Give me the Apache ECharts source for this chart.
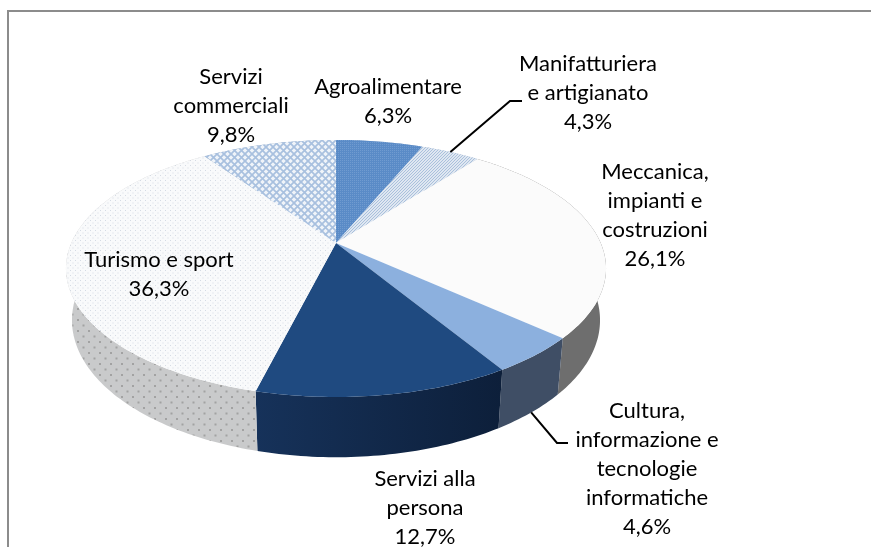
<!DOCTYPE html>
<html>
<head>
<meta charset="utf-8">
<title>Settori</title>
<style>
    html, body { margin: 0; padding: 0; background: #fff; }
    #chart { width: 871px; height: 547px; }
</style>
<script src="https://cdn.jsdelivr.net/npm/echarts@6/dist/echarts.min.js"></script>
</head>
<body>
<div id="chart"></div>
<script>
var categories = ['Agroalimentare', 'Manifatturiera\ne artigianato', 'Meccanica,\nimpianti e\ncostruzioni',
    'Cultura,\ninformazione e\ntecnologie\ninformatiche', 'Servizi alla\npersona', 'Turismo e sport', 'Servizi\ncommerciali'];
var values = [6.3, 4.3, 26.1, 4.6, 12.7, 36.3, 9.8];
var valueLabels = ['6,3%', '4,3%', '26,1%', '4,6%', '12,7%', '36,3%', '9,8%'];

// piano superiore e inferiore del disco, in prospettiva
var topPlane = { ax: 264.7, by: 123.5, cx: 336, cy: 243 };
var bottomPlane = { ax: 258.8, by: 131.7, cx: 336, cy: 293 };
var persp = -0.198;

var total = 0;
values.forEach(function (v) { total += v; });

var cumulative = [];
var sum = 0;
values.forEach(function (v) {
    cumulative.push([sum / total, (sum + v) / total]);
    sum += v;
});

// frazione di giro -> punto sul bordo del disco
var project = function (plane, t) {
    var a = t * Math.PI * 2;
    var u = Math.sin(a);
    var w = -Math.cos(a);
    var den = 1 + persp * w;
    return [plane.cx + plane.ax * u / den, plane.cy + plane.by * w / den];
};

var arc = function (plane, t0, t1) {
    var n = Math.max(2, Math.ceil((t1 - t0) * 360));
    var pts = [];
    for (var i = 0; i <= n; i++) {
        pts.push(project(plane, t0 + (t1 - t0) * i / n));
    }
    return pts;
};

// texture
var pattern = function (w, h, bg, draw) {
    var c = document.createElement('canvas');
    c.width = w;
    c.height = h;
    var ctx = c.getContext('2d');
    ctx.fillStyle = bg;
    ctx.fillRect(0, 0, w, h);
    draw(ctx);
    return { image: c, repeat: 'repeat' };
};

var dots = function (w, h, bg, color, size) {
    return pattern(w, h, bg, function (ctx) {
        ctx.fillStyle = color;
        ctx.fillRect(0, 0, size, size);
        ctx.fillRect(w / 2, h / 2, size, size);
    });
};

var lattice = pattern(7, 7, '#f0f4f9', function (ctx) {
    ctx.strokeStyle = '#a8c0df';
    ctx.lineWidth = 1.7;
    ctx.beginPath();
    ctx.moveTo(-1, -1); ctx.lineTo(8, 8);
    ctx.moveTo(-1, 8); ctx.lineTo(8, -1);
    ctx.stroke();
});

var fine = pattern(2, 2, '#5a8bc7', function (ctx) {
    ctx.fillStyle = '#709bd0';
    ctx.fillRect(0, 0, 1, 1);
});

var fineLight = pattern(3, 3, '#dfe7f1', function (ctx) {
    ctx.fillStyle = '#a9c0dc';
    ctx.fillRect(0, 2, 1, 1);
    ctx.fillRect(1, 1, 1, 1);
    ctx.fillRect(2, 0, 1, 1);
});

var faceFills = [fine, fineLight, '#fbfbfb', '#8cb0de', '#1f4a80',
    dots(5, 5, '#f9fafb', '#d5dbe4', 1), lattice];

var darkWall = {
    type: 'linear', x: 0, y: 0, x2: 1, y2: 0,
    colorStops: [{ offset: 0, color: '#16325a' }, { offset: 1, color: '#0d1f3a' }]
};
var sideFills = ['#b9c7da', '#b9c7da', '#6e6e6e', '#3f4e65', darkWall,
    dots(11, 11, '#c9cacb', '#a2a2a2', 2), '#9fb3cc'];

var seriesData = cumulative.map(function (c, i) {
    return [c[0], c[1], i];
});

var renderWall = function (params, api) {
    var i = api.value(2);
    var t0 = api.value(0);
    var t1 = api.value(1);
    var pts = arc(topPlane, t0, t1).concat(arc(bottomPlane, t0, t1).reverse());
    return {
        type: 'polygon',
        shape: { points: pts },
        style: { fill: sideFills[i] },
        silent: true
    };
};

var renderFace = function (params, api) {
    var i = api.value(2);
    var pts = [[topPlane.cx, topPlane.cy]].concat(arc(topPlane, api.value(0), api.value(1)));
    return {
        type: 'polygon',
        shape: { points: pts },
        style: { fill: faceFills[i] }
    };
};

var midOf = function (i) {
    return (cumulative[i][0] + cumulative[i][1]) / 2;
};

// posizione delle etichette: centro orizzontale e alto del blocco
var labelPlaces = [[388, 72], [588, 49], [655, 157], [647, 396], [425, 464], [159, 245], [231, 62]];

var labelGraphics = categories.map(function (name, i) {
    return {
        type: 'text',
        x: labelPlaces[i][0],
        y: labelPlaces[i][1],
        silent: true,
        z: 10,
        style: {
            text: name + '\n' + valueLabels[i],
            font: '22px Lato',
            lineHeight: 29,
            fill: '#000',
            textAlign: 'center',
            textVerticalAlign: 'top'
        }
    };
});

var line = function (points, color, width) {
    return {
        type: 'polyline',
        silent: true,
        z: 9,
        shape: { points: points },
        style: { stroke: color, lineWidth: width, fill: null }
    };
};

var frame = line([[871, 11], [8, 11], [8, 547]], '#8c8c8c', 2);
var leaderTop = line([project(topPlane, midOf(1)), [510, 101], [522, 101]], '#000', 2);
var leaderBottom = line([project(bottomPlane, midOf(3)), [557, 443], [568, 443]], '#000', 2);

var option = {
    backgroundColor: '#fff',
    animation: false,
    graphic: [frame, leaderTop, leaderBottom].concat(labelGraphics),
    series: [
        {
            type: 'custom',
            coordinateSystem: 'none',
            renderItem: renderWall,
            data: seriesData,
            z: 1
        },
        {
            type: 'custom',
            coordinateSystem: 'none',
            renderItem: renderFace,
            data: seriesData,
            z: 2
        }
    ]
};

var chart = echarts.init(document.getElementById('chart'));
chart.setOption(option);
</script>
</body>
</html>
